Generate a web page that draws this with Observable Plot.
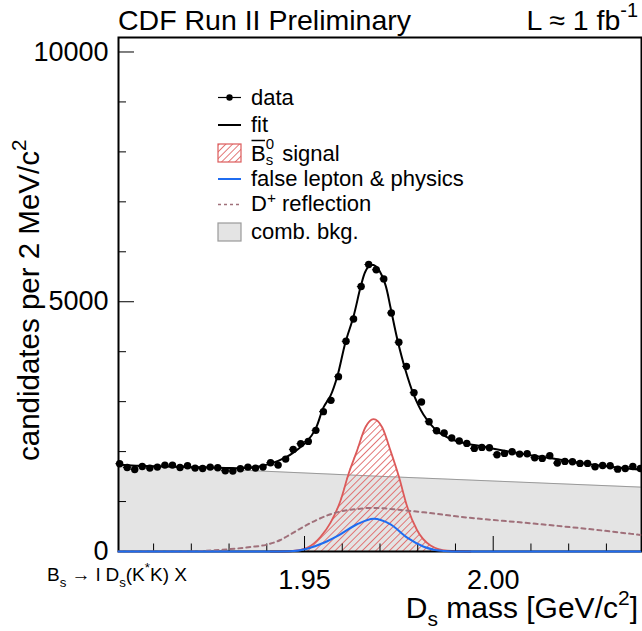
<!DOCTYPE html>
<html><head><meta charset="utf-8">
<script src="https://cdn.jsdelivr.net/npm/d3@7"></script>
<script src="https://cdn.jsdelivr.net/npm/@observablehq/plot@0.6"></script>
<style>body{margin:0;background:#fff}</style>
</head><body><div id="chart"></div>
<script>
// ---- data ----
const binMass = [1.901,1.903,1.905,1.907,1.909,1.911,1.913,1.915,1.917,1.919,1.921,1.923,1.925,1.927,1.929,1.931,1.933,1.935,1.937,1.939,1.941,1.943,1.945,1.947,1.949,1.951,1.953,1.955,1.957,1.959,1.961,1.963,1.965,1.967,1.969,1.971,1.973,1.975,1.977,1.979,1.981,1.983,1.985,1.987,1.989,1.991,1.993,1.995,1.997,1.999,2.001,2.003,2.005,2.007,2.009,2.011,2.013,2.015,2.017,2.019,2.021,2.023,2.025,2.027,2.029,2.031,2.033,2.035,2.037,2.039];
const binCounts = [1757,1683,1643,1703,1670,1690,1730,1730,1683,1717,1670,1663,1690,1677,1617,1610,1657,1690,1670,1690,1777,1730,1850,2044,2158,2204,2425,2800,3026,3500,4208,4655,5304,5745,5640,5457,4776,4188,3707,3180,2992,2599,2418,2371,2271,2211,2164,2064,2084,2078,1938,1964,1998,1950,1958,1878,1864,1918,1770,1804,1798,1764,1764,1697,1723,1717,1649,1663,1703,1663];

const fitMass = [1.9007,1.9065,1.9137,1.9224,1.9291,1.9330,1.9370,1.9410,1.9449,1.9476,1.9508,1.9529,1.9550,1.9569,1.9587,1.9608,1.9630,1.9648,1.9661,1.9672,1.9683,1.9696,1.9714,1.9728,1.9746,1.9767,1.9789,1.9815,1.9852,1.9887,1.9913,1.9940,1.9958,2.0001,2.0091,2.0178,2.0266,2.0390];
const fitVals = [1737,1715,1700,1685,1672,1668,1690,1760,1880,2010,2220,2450,2880,3120,3509,4176,4711,5278,5600,5720,5734,5648,5347,4880,4246,3645,3144,2743,2409,2255,2190,2142,2124,2058,1938,1838,1737,1637];

const sigMass = [1.9410,1.9463,1.9507,1.9542,1.9569,1.9595,1.9617,1.9639,1.9661,1.9683,1.9706,1.9728,1.9750,1.9772,1.9798,1.9834,1.9878,1.9940];
const sigVals = [0,5,76,290,577,1012,1560,2015,2482,2650,2482,2015,1500,900,430,120,15,0];

const fakeMass = [1.9007,1.9436,1.9463,1.9507,1.9551,1.9595,1.9639,1.9683,1.9728,1.9772,1.9816,1.9869,1.9913,2.0390];
const fakeVals = [0,0,3,56,176,345,545,658,545,277,96,10,0,0];

const reflMass = [1.9007,1.9171,1.9224,1.9298,1.9357,1.9402,1.9436,1.9463,1.9489,1.9529,1.9569,1.9608,1.9640,1.9675,1.9709,1.9736,1.9815,1.9913,2.0091,2.0266,2.0390];
const reflVals = [0,0,8,44,90,140,230,345,460,620,746,820,850,872,865,845,785,695,570,440,331];

const bkgMass = [1.9007,1.9700,2.0390];
const bkgVals = [1737,1505,1289];

const yMajor = [0,5000,10000];
const yMinor = [1000,2000,3000,4000,6000,7000,8000,9000];
const xMajor = [1.95,2.00];
const xMinor = [1.91,1.92,1.93,1.94,1.96,1.97,1.98,1.99,2.01,2.02,2.03];

// ---- tables ----
const pts = binMass.map((m,i)=>({m, n: binCounts[i]}));
const fit = fitMass.map((m,i)=>({m, v: fitVals[i]}));
const sig = sigMass.map((m,i)=>({m, v: sigVals[i]}));
const fake = fakeMass.map((m,i)=>({m, v: fakeVals[i]}));
const refl = reflMass.map((m,i)=>({m, v: reflVals[i]}));
const bkg = bkgMass.map((m,i)=>({m, v: bkgVals[i]}));

const FONT = "'Liberation Sans', Arial, Helvetica, sans-serif";
const W = 642, H = 631, mL = 118, mR = 1, mT = 37, mB = 80;
const pw = W - mL - mR, ph = H - mT - mB;
const RED = "#dc5a5a", BLUE = "#1f6cf0", BROWN = "#a0707a";

const plot = Plot.plot({
  width: W, height: H,
  marginLeft: mL, marginRight: mR, marginTop: mT, marginBottom: mB,
  style: {fontFamily: FONT, background: "white", color: "black", overflow: "visible"},
  x: {domain: [1.9007, 2.0393], axis: null},
  y: {domain: [0, 10290], axis: null},
  marks: [
    Plot.areaY(bkg, {x: "m", y: "v", fill: "#e4e4e4"}),
    Plot.line(bkg, {x: "m", y: "v", stroke: "#9a9a9a", strokeWidth: 1}),
    Plot.areaY(sig, {x: "m", y: "v", fill: "url(#hatch)", curve: "monotone-x"}),
    Plot.line(sig, {x: "m", y: "v", stroke: RED, strokeWidth: 1.8, curve: "monotone-x"}),
    Plot.frame({stroke: "black", strokeWidth: 2}),
    Plot.tickY(yMajor, {y: d=>d, stroke: "black", insetRight: pw - 16}),
    Plot.tickY(yMinor, {y: d=>d, stroke: "black", insetRight: pw - 8}),
    Plot.tickX(xMajor, {x: d=>d, stroke: "black", insetTop: ph - 15}),
    Plot.tickX(xMinor, {x: d=>d, stroke: "black", insetTop: ph - 7.5}),
    Plot.line(refl, {x: "m", y: "v", stroke: BROWN, strokeWidth: 2, strokeDasharray: "4,4", curve: "monotone-x"}),
    Plot.line(fake, {x: "m", y: "v", stroke: BLUE, strokeWidth: 2, curve: "monotone-x"}),
    Plot.line(fit, {x: "m", y: "v", stroke: "black", strokeWidth: 2, curve: "catmull-rom"}),
    Plot.ruleY(pts, {x1: d=>d.m-0.001, x2: d=>d.m+0.001, y: "n", stroke: "black", strokeWidth: 1}),
    Plot.dot(pts, {x: "m", y: "n", r: 3.7, fill: "black"}),
    Plot.axisY(yMajor, {anchor: "left", tickSize: 0, tickPadding: 10, fontSize: 27, label: null, tickFormat: d3.format("d")}),
    Plot.axisX(xMajor, {anchor: "bottom", tickSize: 0, tickPadding: 18, fontSize: 27, label: null, tickFormat: d3.format(".2f")})
  ]
});
document.getElementById("chart").appendChild(plot);

const svg = d3.select(plot);
const defs = svg.insert("defs", ":first-child");
const pat = defs.append("pattern").attr("id", "hatch").attr("patternUnits", "userSpaceOnUse")
  .attr("width", 4.8).attr("height", 4.8).attr("patternTransform", "rotate(45)");
pat.append("line").attr("x1", 2.4).attr("y1", 0).attr("x2", 2.4).attr("y2", 4.8)
  .attr("stroke", "#e06a6a").attr("stroke-width", 0.9);

function richText(g, x, y, size, anchor, parts, subShift = 0.3, supShift = 0.45) {
  const t = g.append("text").attr("x", x).attr("y", y).attr("font-size", size)
    .attr("text-anchor", anchor).attr("font-family", FONT).attr("fill", "black");
  let shift = 0;
  for (const [s, kind, dx] of parts) {
    const target = kind === "sub" ? subShift * size : kind === "sup" ? -supShift * size : 0;
    const ts = t.append("tspan").attr("dy", target - shift).text(s);
    if (kind) ts.attr("font-size", size * 0.7);
    if (dx) ts.attr("dx", dx);
    shift = target;
  }
  return t;
}
const ann = svg.append("g");
richText(ann, 118, 30, 28.5, "start", [["CDF Run II Preliminary"]]);
richText(ann, 638, 30, 28.5, "end", [["L \u2248 1 fb"], ["-1", "sup"]]);
richText(ann, 638, 618, 30, "end", [["D"], ["s", "sub"], [" mass [GeV/c"], ["2", "sup"], ["]"]], 0.25);
richText(ann, 47, 581, 19, "start", [["B"], ["s", "sub"], [" \u2192 l D"], ["s", "sub"], ["(K"], ["*", "sup"], ["K) X"]]);
const yl = ann.append("g").attr("transform", "translate(39,461) rotate(-90)");
richText(yl, 0, 0, 29.5, "start", [["candidates per 2 MeV/c"], ["2", "sup"]]);

// legend
const lg = svg.append("g");
const lx0 = 218, lx1 = 241, tx = 251, fs = 22;
// data
lg.append("line").attr("x1", lx0).attr("x2", lx1).attr("y1", 97.5).attr("y2", 97.5).attr("stroke", "black").attr("stroke-width", 1.2);
lg.append("circle").attr("cx", 229.5).attr("cy", 97.5).attr("r", 3.2).attr("fill", "black");
richText(lg, tx, 104.5, fs, "start", [["data"]]);
// fit
lg.append("line").attr("x1", lx0).attr("x2", lx1).attr("y1", 125).attr("y2", 125).attr("stroke", "black").attr("stroke-width", 2);
richText(lg, tx, 132, fs, "start", [["fit"]]);
// signal
lg.append("rect").attr("x", lx0).attr("y", 144).attr("width", 23).attr("height", 18).attr("fill", "url(#hatch)").attr("stroke", RED).attr("stroke-width", 1.2);
const st = lg.append("text").attr("x", tx).attr("y", 160.5).attr("font-size", fs).attr("font-family", FONT)
  .attr("text-anchor", "start").attr("fill", "black");
st.append("tspan").text("B");
st.append("tspan").attr("dy", 4).attr("font-size", 15).text("s");
st.append("tspan").attr("dy", -16).attr("dx", -7.5).attr("font-size", 15).text("0");
st.append("tspan").attr("dy", 12).attr("dx", 2).text(" signal");
lg.append("line").attr("x1", tx + 0.5).attr("x2", tx + 14).attr("y1", 140.5).attr("y2", 140.5).attr("stroke", "black").attr("stroke-width", 1.5);
// false lepton
lg.append("line").attr("x1", lx0).attr("x2", lx1).attr("y1", 179).attr("y2", 179).attr("stroke", BLUE).attr("stroke-width", 2);
richText(lg, tx, 186, fs, "start", [["false lepton & physics"]]);
// D+ reflection
lg.append("line").attr("x1", lx0).attr("x2", lx1).attr("y1", 204.5).attr("y2", 204.5).attr("stroke", BROWN).attr("stroke-width", 1.5).attr("stroke-dasharray", "3,3");
richText(lg, tx, 211, fs, "start", [["D"], ["+", "sup"], [" reflection"]], 0.3, 0.36);
// comb bkg
lg.append("rect").attr("x", lx0).attr("y", 223).attr("width", 23).attr("height", 18).attr("fill", "#e4e4e4").attr("stroke", "#9a9a9a").attr("stroke-width", 1.2);
richText(lg, tx, 238.5, fs, "start", [["comb. bkg."]]);
</script>
</body></html>
